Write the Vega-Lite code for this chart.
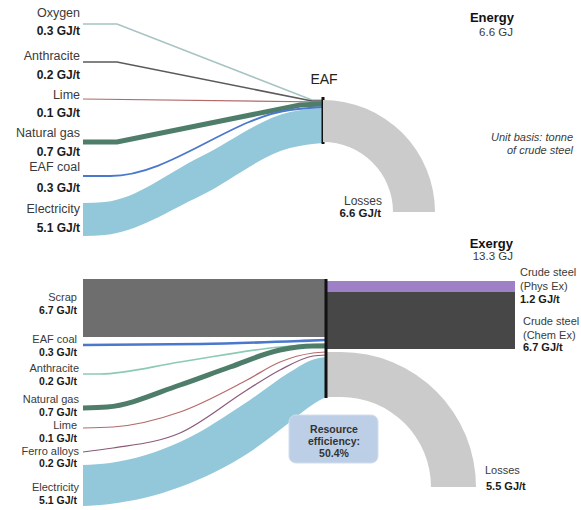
{
"$schema": "https://vega.github.io/schema/vega-lite/v6.json",
"width": 581, "height": 510, "autosize": "none", "padding": 0,
"background": "white",
"config": {"view": {"stroke": null}, "text": {"font": "Liberation Sans"}},
"datasets": {
"flows": [
{"panel":"energy","flow":"Oxygen","x":83,"y":24},{"panel":"energy","flow":"Oxygen","x":117,"y":24},{"panel":"energy","flow":"Oxygen","x":312,"y":100},{"panel":"energy","flow":"Oxygen","x":323,"y":100},
{"panel":"energy","flow":"Anthracite","x":83,"y":62},{"panel":"energy","flow":"Anthracite","x":117,"y":62},{"panel":"energy","flow":"Anthracite","x":312,"y":101},{"panel":"energy","flow":"Anthracite","x":323,"y":101},
{"panel":"energy","flow":"Lime","x":83,"y":99},{"panel":"energy","flow":"Lime","x":323,"y":102},
{"panel":"energy","flow":"Natural gas","x":83,"y":142},{"panel":"energy","flow":"Natural gas","x":117,"y":142},{"panel":"energy","flow":"Natural gas","x":300,"y":105},{"panel":"energy","flow":"Natural gas","x":323,"y":104},
{"panel":"energy","flow":"EAF coal","x":83,"y":176},{"panel":"energy","flow":"EAF coal","x":110,"y":176},{"panel":"energy","flow":"EAF coal","x":290,"y":110},{"panel":"energy","flow":"EAF coal","x":323,"y":107},
{"panel":"exergy","flow":"EAF coal","x":83,"y":345},{"panel":"exergy","flow":"EAF coal","x":200,"y":344},{"panel":"exergy","flow":"EAF coal","x":300,"y":341},{"panel":"exergy","flow":"EAF coal","x":326,"y":340},
{"panel":"exergy","flow":"Anthracite","x":83,"y":374},{"panel":"exergy","flow":"Anthracite","x":100,"y":374},{"panel":"exergy","flow":"Anthracite","x":180,"y":362},{"panel":"exergy","flow":"Anthracite","x":280,"y":347},{"panel":"exergy","flow":"Anthracite","x":326,"y":344},
{"panel":"exergy","flow":"Natural gas","x":83,"y":408},{"panel":"exergy","flow":"Natural gas","x":107,"y":407},{"panel":"exergy","flow":"Natural gas","x":180,"y":385},{"panel":"exergy","flow":"Natural gas","x":230,"y":367},{"panel":"exergy","flow":"Natural gas","x":280,"y":350},{"panel":"exergy","flow":"Natural gas","x":313,"y":346},{"panel":"exergy","flow":"Natural gas","x":326,"y":346},
{"panel":"exergy","flow":"Lime","x":83,"y":428},{"panel":"exergy","flow":"Lime","x":113,"y":427},{"panel":"exergy","flow":"Lime","x":180,"y":412},{"panel":"exergy","flow":"Lime","x":247,"y":380},{"panel":"exergy","flow":"Lime","x":280,"y":362},{"panel":"exergy","flow":"Lime","x":313,"y":353},{"panel":"exergy","flow":"Lime","x":326,"y":352},
{"panel":"exergy","flow":"Ferro alloys","x":83,"y":452},{"panel":"exergy","flow":"Ferro alloys","x":113,"y":448},{"panel":"exergy","flow":"Ferro alloys","x":180,"y":433},{"panel":"exergy","flow":"Ferro alloys","x":247,"y":390},{"panel":"exergy","flow":"Ferro alloys","x":280,"y":370},{"panel":"exergy","flow":"Ferro alloys","x":313,"y":356},{"panel":"exergy","flow":"Ferro alloys","x":326,"y":355}
],
"bands": [
{"panel":"energy","flow":"Electricity","x":83,"y":203,"y2":236},{"panel":"energy","flow":"Electricity","x":105,"y":202,"y2":235},{"panel":"energy","flow":"Electricity","x":200,"y":157,"y2":196},{"panel":"energy","flow":"Electricity","x":290,"y":112,"y2":148},{"panel":"energy","flow":"Electricity","x":323,"y":108,"y2":143},
{"panel":"exergy","flow":"Electricity","x":83,"y":465,"y2":506},{"panel":"exergy","flow":"Electricity","x":110,"y":463,"y2":504},{"panel":"exergy","flow":"Electricity","x":180,"y":442,"y2":487},{"panel":"exergy","flow":"Electricity","x":250,"y":400,"y2":452},{"panel":"exergy","flow":"Electricity","x":290,"y":372,"y2":422},{"panel":"exergy","flow":"Electricity","x":315,"y":359,"y2":403},{"panel":"exergy","flow":"Electricity","x":326,"y":357,"y2":397}
],
"blocks": [
{"name":"Scrap","x":83,"x2":326,"y":279,"y2":337},
{"name":"Crude steel (Phys Ex)","x":326,"x2":515,"y":281,"y2":292},
{"name":"Crude steel (Chem Ex)","x":326,"x2":515,"y":292,"y2":349},
{"name":"Losses exergy","x":326,"x2":341,"y":352,"y2":397},
{"name":"EAF energy","x":321.5,"x2":324.5,"y":97,"y2":144},
{"name":"EAF exergy","x":324.5,"x2":327.5,"y":279,"y2":398}
],
"box": [{"name":"Resource efficiency","x":289,"x2":378,"y":415,"y2":463}],
"arcs": [{"panel":"energy","x":323,"y":212},{"panel":"exergy","x":341,"y":487}],
"labels": [
{"kind":"tname","x":80,"y":13,"text":"Oxygen"},{"kind":"tval","x":80,"y":31,"text":"0.3 GJ/t"},
{"kind":"tname","x":80,"y":56,"text":"Anthracite"},{"kind":"tval","x":80,"y":75,"text":"0.2 GJ/t"},
{"kind":"tname","x":80,"y":95,"text":"Lime"},{"kind":"tval","x":80,"y":113,"text":"0.1 GJ/t"},
{"kind":"tname","x":80,"y":133,"text":"Natural gas"},{"kind":"tval","x":80,"y":152,"text":"0.7 GJ/t"},
{"kind":"tname","x":80,"y":167,"text":"EAF coal"},{"kind":"tval","x":80,"y":188,"text":"0.3 GJ/t"},
{"kind":"tname","x":80,"y":209,"text":"Electricity"},{"kind":"tval","x":80,"y":228,"text":"5.1 GJ/t"},
{"kind":"eaf","x":324,"y":80,"text":"EAF"},
{"kind":"lname","x":382,"y":200.5,"text":"Losses"},{"kind":"lval","x":381,"y":214,"text":"6.6 GJ/t"},
{"kind":"head","x":514,"y":18,"text":"Energy"},{"kind":"sub","x":513,"y":33,"text":"6.6 GJ"},
{"kind":"ital","x":573,"y":138,"text":"Unit basis: tonne"},{"kind":"ital","x":573,"y":151,"text":"of crude steel"},
{"kind":"bname","x":77,"y":298,"text":"Scrap"},{"kind":"bval","x":77,"y":311,"text":"6.7 GJ/t"},
{"kind":"bname","x":77,"y":340,"text":"EAF coal"},{"kind":"bval","x":77,"y":353,"text":"0.3 GJ/t"},
{"kind":"bname","x":79,"y":369,"text":"Anthracite"},{"kind":"bval","x":77,"y":382,"text":"0.2 GJ/t"},
{"kind":"bname","x":79,"y":400,"text":"Natural gas"},{"kind":"bval","x":77,"y":413,"text":"0.7 GJ/t"},
{"kind":"bname","x":77,"y":426,"text":"Lime"},{"kind":"bval","x":77,"y":438.5,"text":"0.1 GJ/t"},
{"kind":"bname","x":79,"y":451.5,"text":"Ferro alloys"},{"kind":"bval","x":77,"y":464,"text":"0.2 GJ/t"},
{"kind":"bname","x":79,"y":488,"text":"Electricity"},{"kind":"bval","x":77,"y":501,"text":"5.1 GJ/t"},
{"kind":"head","x":513,"y":244,"text":"Exergy"},{"kind":"sub","x":513,"y":257,"text":"13.3 GJ"},
{"kind":"rname","x":520,"y":273,"text":"Crude steel"},{"kind":"rname","x":520,"y":287,"text":"(Phys Ex)"},{"kind":"rval","x":520,"y":300,"text":"1.2 GJ/t"},
{"kind":"rname","x":523,"y":322,"text":"Crude steel"},{"kind":"rname","x":523,"y":336,"text":"(Chem Ex)"},{"kind":"rval","x":523,"y":348,"text":"6.7 GJ/t"},
{"kind":"rname","x":485,"y":471,"text":"Losses"},{"kind":"rval","x":486,"y":487,"text":"5.5 GJ/t"},
{"kind":"box","x":334,"y":430,"text":"Resource"},{"kind":"box","x":334,"y":442,"text":"efficiency:"},{"kind":"box","x":334,"y":454,"text":"50.4%"}
]
},
"encoding": {
"x": {"field":"x","type":"quantitative","scale":{"domain":[0,581],"nice":false,"zero":false},"axis":null},
"y": {"field":"y","type":"quantitative","stack":null,"scale":{"domain":[0,510],"reverse":true,"nice":false,"zero":false},"axis":null}
},
"layer": [
{"data":{"name":"bands"},"transform":[{"filter":"datum.panel==='energy'"}],"mark":{"type":"area","interpolate":"monotone","color":"#93c8da"},"encoding":{"y2":{"field":"y2"}}},
{"data":{"name":"bands"},"transform":[{"filter":"datum.panel==='exergy'"}],"mark":{"type":"area","interpolate":"monotone","color":"#93c8da"},"encoding":{"y2":{"field":"y2"}}},
{"data":{"name":"blocks"},"transform":[{"filter":"datum.name==='Scrap'"}],"mark":{"type":"rect","color":"#6e6e6e"},"encoding":{"x2":{"field":"x2"},"y2":{"field":"y2"}}},
{"data":{"name":"flows"},"transform":[{"filter":"datum.panel==='energy' && datum.flow==='Oxygen'"}],"mark":{"type":"line","color":"#a6c4c4","strokeWidth":1.6},"encoding":{}},
{"data":{"name":"flows"},"transform":[{"filter":"datum.panel==='energy' && datum.flow==='Anthracite'"}],"mark":{"type":"line","color":"#5a5a5a","strokeWidth":1.6},"encoding":{}},
{"data":{"name":"flows"},"transform":[{"filter":"datum.panel==='energy' && datum.flow==='Lime'"}],"mark":{"type":"line","color":"#b06a6a","strokeWidth":1.2},"encoding":{}},
{"data":{"name":"flows"},"transform":[{"filter":"datum.panel==='energy' && datum.flow==='Natural gas'"}],"mark":{"type":"line","color":"#4e7d6a","strokeWidth":5},"encoding":{}},
{"data":{"name":"flows"},"transform":[{"filter":"datum.panel==='energy' && datum.flow==='EAF coal'"}],"mark":{"type":"line","interpolate":"monotone","color":"#4a78cc","strokeWidth":1.8},"encoding":{}},
{"data":{"name":"flows"},"transform":[{"filter":"datum.panel==='exergy' && datum.flow==='EAF coal'"}],"mark":{"type":"line","interpolate":"monotone","color":"#4a78cc","strokeWidth":2.6},"encoding":{}},
{"data":{"name":"flows"},"transform":[{"filter":"datum.panel==='exergy' && datum.flow==='Anthracite'"}],"mark":{"type":"line","interpolate":"monotone","color":"#8ccab4","strokeWidth":1.6},"encoding":{}},
{"data":{"name":"flows"},"transform":[{"filter":"datum.panel==='exergy' && datum.flow==='Natural gas'"}],"mark":{"type":"line","interpolate":"monotone","color":"#4e7d6a","strokeWidth":5},"encoding":{}},
{"data":{"name":"flows"},"transform":[{"filter":"datum.panel==='exergy' && datum.flow==='Lime'"}],"mark":{"type":"line","interpolate":"monotone","color":"#b56b6b","strokeWidth":1.2},"encoding":{}},
{"data":{"name":"flows"},"transform":[{"filter":"datum.panel==='exergy' && datum.flow==='Ferro alloys'"}],"mark":{"type":"line","interpolate":"monotone","color":"#8b5a78","strokeWidth":1.2},"encoding":{}},
{"data":{"name":"blocks"},"transform":[{"filter":"datum.name!=='Scrap'"}],"mark":{"type":"rect"},"encoding":{"x2":{"field":"x2"},"y2":{"field":"y2"},"color":{"field":"name","type":"nominal","legend":null,"scale":{"domain":["Crude steel (Phys Ex)","Crude steel (Chem Ex)","Losses exergy","EAF energy","EAF exergy"],"range":["#9d80c6","#474747","#cbcbcb","#111111","#111111"]}}}},
{"data":{"name":"arcs"},"transform":[{"filter":"datum.panel==='energy'"}],"mark":{"type":"arc","theta":0,"theta2":1.5708,"outerRadius":112,"innerRadius":70,"color":"#cbcbcb"},"encoding":{}},
{"data":{"name":"arcs"},"transform":[{"filter":"datum.panel==='exergy'"}],"mark":{"type":"arc","theta":0,"theta2":1.5708,"outerRadius":135,"innerRadius":90,"color":"#cbcbcb"},"encoding":{}},
{"data":{"name":"box"},"mark":{"type":"rect","color":"#bccfe6","cornerRadius":7,"stroke":"#d3deed","strokeWidth":1},"encoding":{"x2":{"field":"x2"},"y2":{"field":"y2"}}},
{"data":{"name":"labels"},"transform":[{"filter":"datum.kind==='tname'"}],"mark":{"type":"text","align":"right","baseline":"middle","fontSize":12.5,"color":"#3a3a3a"},"encoding":{"text":{"field":"text"}}},
{"data":{"name":"labels"},"transform":[{"filter":"datum.kind==='tval'"}],"mark":{"type":"text","align":"right","baseline":"middle","fontSize":12,"fontWeight":"bold","color":"#1a1a1a"},"encoding":{"text":{"field":"text"}}},
{"data":{"name":"labels"},"transform":[{"filter":"datum.kind==='bname'"}],"mark":{"type":"text","align":"right","baseline":"middle","fontSize":11,"color":"#3a3a3a"},"encoding":{"text":{"field":"text"}}},
{"data":{"name":"labels"},"transform":[{"filter":"datum.kind==='bval'"}],"mark":{"type":"text","align":"right","baseline":"middle","fontSize":10.5,"fontWeight":"bold","color":"#1a1a1a"},"encoding":{"text":{"field":"text"}}},
{"data":{"name":"labels"},"transform":[{"filter":"datum.kind==='eaf'"}],"mark":{"type":"text","align":"center","baseline":"middle","fontSize":14,"color":"#222222"},"encoding":{"text":{"field":"text"}}},
{"data":{"name":"labels"},"transform":[{"filter":"datum.kind==='lname'"}],"mark":{"type":"text","align":"right","baseline":"middle","fontSize":12,"color":"#3a3a3a"},"encoding":{"text":{"field":"text"}}},
{"data":{"name":"labels"},"transform":[{"filter":"datum.kind==='lval'"}],"mark":{"type":"text","align":"right","baseline":"middle","fontSize":11.5,"fontWeight":"bold","color":"#1a1a1a"},"encoding":{"text":{"field":"text"}}},
{"data":{"name":"labels"},"transform":[{"filter":"datum.kind==='head'"}],"mark":{"type":"text","align":"right","baseline":"middle","fontSize":13,"fontWeight":"bold","color":"#111111"},"encoding":{"text":{"field":"text"}}},
{"data":{"name":"labels"},"transform":[{"filter":"datum.kind==='sub'"}],"mark":{"type":"text","align":"right","baseline":"middle","fontSize":11.5,"color":"#3a3a3a"},"encoding":{"text":{"field":"text"}}},
{"data":{"name":"labels"},"transform":[{"filter":"datum.kind==='ital'"}],"mark":{"type":"text","align":"right","baseline":"middle","fontSize":11,"fontStyle":"italic","color":"#3a3a3a"},"encoding":{"text":{"field":"text"}}},
{"data":{"name":"labels"},"transform":[{"filter":"datum.kind==='rname'"}],"mark":{"type":"text","align":"left","baseline":"middle","fontSize":11,"color":"#3a3a3a"},"encoding":{"text":{"field":"text"}}},
{"data":{"name":"labels"},"transform":[{"filter":"datum.kind==='rval'"}],"mark":{"type":"text","align":"left","baseline":"middle","fontSize":11,"fontWeight":"bold","color":"#1a1a1a"},"encoding":{"text":{"field":"text"}}},
{"data":{"name":"labels"},"transform":[{"filter":"datum.kind==='box'"}],"mark":{"type":"text","align":"center","baseline":"middle","fontSize":10.5,"fontWeight":"bold","color":"#333333"},"encoding":{"text":{"field":"text"}}}
]
}
